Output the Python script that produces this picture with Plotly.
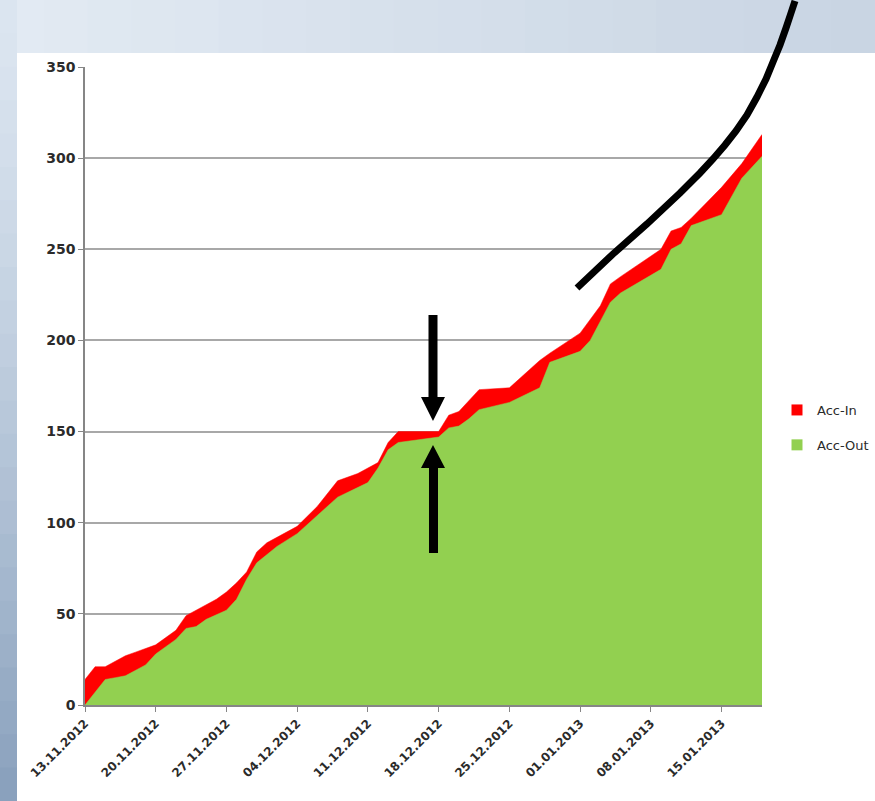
import plotly.graph_objects as go

# ---------------- data ----------------
in_dates = ["2012-11-13", "2012-11-14", "2012-11-15", "2012-11-16", "2012-11-17", "2012-11-18",
            "2012-11-20", "2012-11-21", "2012-11-22", "2012-11-23", "2012-11-24", "2012-11-26",
            "2012-11-27", "2012-11-28", "2012-11-29", "2012-11-30", "2012-12-01", "2012-12-04",
            "2012-12-06", "2012-12-08", "2012-12-10", "2012-12-12", "2012-12-13", "2012-12-14",
            "2012-12-18", "2012-12-19", "2012-12-20", "2012-12-22", "2012-12-25", "2012-12-28",
            "2012-12-29", "2013-01-01", "2013-01-03", "2013-01-04", "2013-01-05", "2013-01-09",
            "2013-01-10", "2013-01-11", "2013-01-12", "2013-01-15", "2013-01-17", "2013-01-19"]
in_values = [14, 21, 21, 24, 27, 29,
             33, 37, 41, 49, 52, 58,
             62, 67, 73, 84, 89, 98,
             109, 123, 127, 133, 144, 150,
             150, 159, 161, 173, 174, 189,
             193, 204, 219, 231, 235, 250,
             260, 262, 267, 284, 297, 313]

out_dates = ["2012-11-13", "2012-11-15", "2012-11-16", "2012-11-17", "2012-11-19", "2012-11-20",
             "2012-11-21", "2012-11-22", "2012-11-23", "2012-11-24", "2012-11-25", "2012-11-27",
             "2012-11-28", "2012-11-29", "2012-11-30", "2012-12-02", "2012-12-04", "2012-12-06",
             "2012-12-08", "2012-12-11", "2012-12-12", "2012-12-13", "2012-12-14", "2012-12-18",
             "2012-12-19", "2012-12-20", "2012-12-21", "2012-12-22", "2012-12-25", "2012-12-28",
             "2012-12-29", "2013-01-01", "2013-01-02", "2013-01-04", "2013-01-05", "2013-01-09",
             "2013-01-10", "2013-01-11", "2013-01-12", "2013-01-15", "2013-01-17", "2013-01-19"]
out_values = [0, 14, 15, 16, 22, 28,
              32, 36, 42, 43, 47, 52,
              58, 69, 78, 87, 94, 104,
              114, 122, 130, 140, 144, 147,
              152, 153, 157, 162, 166, 174,
              188, 194, 200, 221, 226, 239,
              250, 253, 263, 269, 289, 301]

series_names = ["Acc-In", "Acc-Out"]
y_ticks = [0, 50, 100, 150, 200, 250, 300, 350]

RED = "#ff0000"
GREEN = "#92d050"
FONT = "DejaVu Sans, Verdana, sans-serif"
TXT = "#2b2b2b"

W, H = 875, 801
L, R, T, B = 85, 762, 67, 705   # plot area in pixels


def P(px, py):
    return (px - L) / (R - L), (B - py) / (B - T)


def hexmix(c1, c2, t):
    a = [int(c1[i:i + 2], 16) for i in (1, 3, 5)]
    b = [int(c2[i:i + 2], 16) for i in (1, 3, 5)]
    return "#%02x%02x%02x" % tuple(round(a[k] + (b[k] - a[k]) * t) for k in range(3))


fig = go.Figure()

fig.add_trace(go.Scatter(x=in_dates, y=in_values, name=series_names[0], mode="lines",
                         line=dict(color=RED, width=0.5), fill="tozeroy", fillcolor=RED,
                         showlegend=False, hoverinfo="skip"))
fig.add_trace(go.Scatter(x=out_dates, y=out_values, name=series_names[1], mode="lines",
                         line=dict(color=GREEN, width=0.5), fill="tozeroy", fillcolor=GREEN,
                         showlegend=False, hoverinfo="skip"))

# legend entries (square swatches like the original)
for nm, col in zip(series_names, [RED, GREEN]):
    fig.add_trace(go.Scatter(x=[None], y=[None], mode="markers", name=nm, legendgroup=nm,
                             marker=dict(symbol="square", size=11, color=col)))

shapes = []
# slide background: top band gradient
n = 20
for i in range(n):
    x0, _ = P(W * i / n, 0)
    x1, _ = P(W * (i + 1) / n + 1, 0)
    _, y0 = P(0, -2)
    _, y1 = P(0, 53)
    shapes.append(dict(type="rect", xref="paper", yref="paper", x0=x0, x1=x1, y0=y0, y1=y1,
                       fillcolor=hexmix("#e2eaf3", "#c9d5e3", i / (n - 1)), line=dict(width=0),
                       layer="below"))
# left strip gradient
n = 24
for i in range(n):
    x0, y0 = P(-2, H * i / n)
    x1, y1 = P(17, H * (i + 1) / n + 1)
    shapes.append(dict(type="rect", xref="paper", yref="paper", x0=x0, x1=x1, y0=y0, y1=y1,
                       fillcolor=hexmix("#dbe5f0", "#8aa1bd", (i / (n - 1)) ** 1.3),
                       line=dict(width=0), layer="below"))
# white chart panel
x0, y0 = P(17, 53)
x1, y1 = P(W + 5, H + 5)
shapes.append(dict(type="rect", xref="paper", yref="paper", x0=x0, x1=x1, y0=y0, y1=y1,
                   fillcolor="white", line=dict(width=0), layer="below"))


def poly(points):
    s = ""
    for k, (px, py) in enumerate(points):
        u, v = P(px, py)
        s += ("M" if k == 0 else "L") + f"{u:.5f},{v:.5f} "
    return s


# down arrow
shapes.append(dict(type="path", xref="paper", yref="paper",
                   path=poly([(428.5, 315), (437.5, 315), (437.5, 397), (445, 397), (433, 421),
                              (421, 397), (428.5, 397)]) + "Z",
                   fillcolor="black", line=dict(width=0), layer="above"))
# up arrow
shapes.append(dict(type="path", xref="paper", yref="paper",
                   path=poly([(429, 553), (438, 553), (438, 468), (445, 468), (433, 445),
                              (421, 468), (429, 468)]) + "Z",
                   fillcolor="black", line=dict(width=0), layer="above"))
# curved black line
curve = [(577, 288), (613, 254), (647, 224), (680, 193), (700, 173), (713, 159), (725, 145),
         (736, 131), (747, 115), (757, 97), (766, 79), (773, 62), (780, 45), (786, 28),
         (791, 13), (795, 1)]
shapes.append(dict(type="path", xref="paper", yref="paper", path=poly(curve),
                   line=dict(color="black", width=7), layer="above"))

fig.update_layout(
    width=W, height=H, autosize=False,
    margin=dict(l=L, r=W - R, t=T, b=H - B, pad=0, autoexpand=False),
    paper_bgcolor="#cfdae7", plot_bgcolor="rgba(0,0,0,0)",
    font=dict(family=FONT, size=13, color=TXT),
    shapes=shapes,
    showlegend=True,
    legend=dict(x=P(777, 0)[0], y=P(0, 395)[1], xanchor="left", yanchor="top",
                bgcolor="rgba(0,0,0,0)", tracegroupgap=15, itemwidth=30,
                font=dict(family=FONT, size=13, color=TXT)),
    xaxis=dict(type="date", range=["2012-11-13", "2013-01-19"],
               tick0="2012-11-13", dtick=7 * 86400000, tickformat="%d.%m.%Y",
               tickangle=-45, ticks="outside", ticklen=5, tickcolor="#868686",
               showgrid=False, showline=True, linecolor="#868686", linewidth=1.5,
               zeroline=False, tickfont=dict(family=FONT, size=12, color=TXT, weight="bold")),
    yaxis=dict(range=[0, 350], tickvals=y_ticks, ticks="outside", ticklen=5,
               tickcolor="#868686", showgrid=True, gridcolor="#a8a8a8", gridwidth=1.5,
               showline=True, linecolor="#868686", linewidth=1.5, zeroline=False,
               tickfont=dict(family=FONT, size=14, color=TXT, weight="bold")),
)

post = ("document.body.style.margin='0';document.body.style.padding='0';"
        "document.body.style.overflow='hidden';"
        "var gd=document.getElementById('{plot_id}');"
        "Plotly.relayout(gd,{width:875,height:801});")

fig.write_html("out.html", post_script=post,
               config={"responsive": False, "displayModeBar": False})
